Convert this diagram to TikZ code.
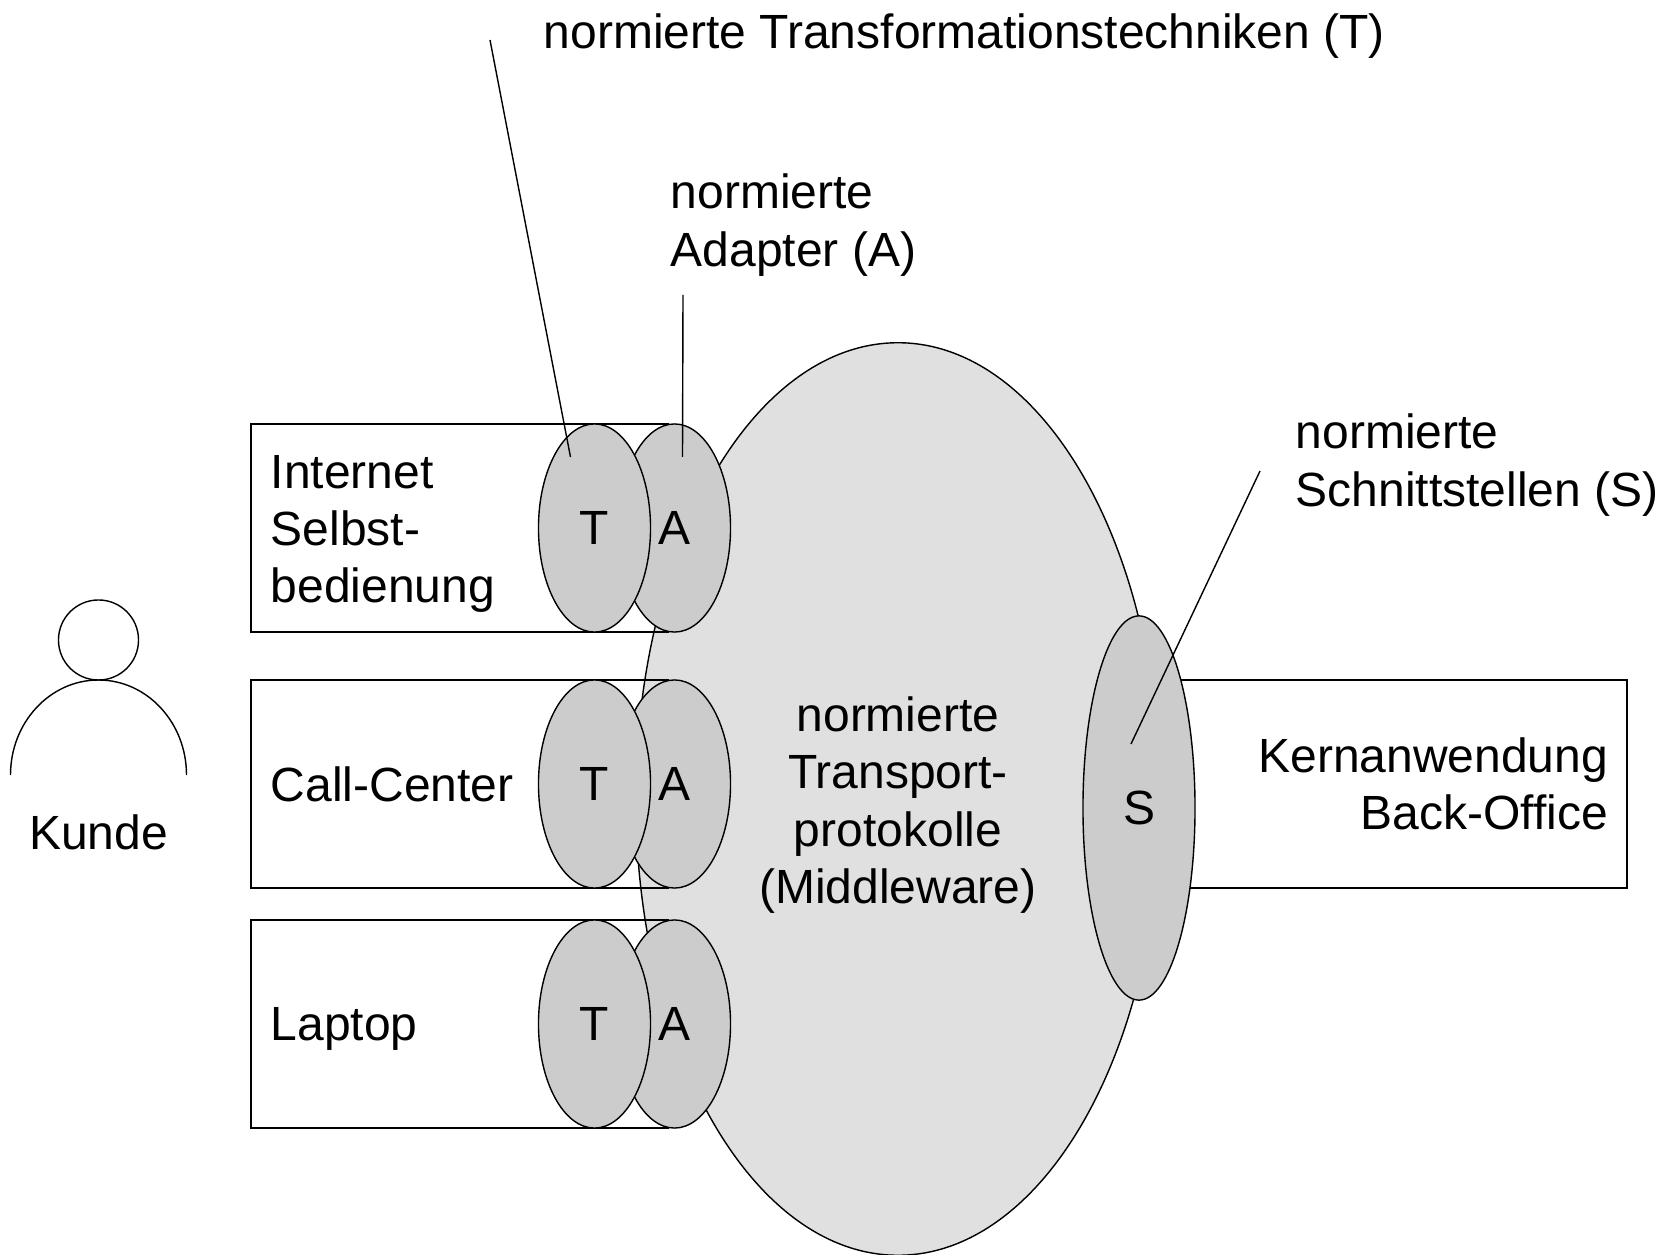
\documentclass[tikz,border=0pt]{standalone}
\usepackage{fontspec}
\setmainfont{Liberation Sans}
\usetikzlibrary{calc}
\usetikzlibrary{shapes.geometric}
\tikzstyle{blobnode} = [draw, ellipse, inner sep=0pt, minimum width=1.12cm, minimum height=2.08cm]
\tikzstyle{colorBlob} = [fill=black!20]
\tikzstyle{colorCore} = [fill=black!12]
\tikzstyle{appnode} = [draw, inner sep=0pt, minimum height=2.08cm]
\tikzstyle{leftapp} = [appnode, minimum width=4.17cm]
\tikzstyle{lbl} = [align=left, inner sep=0pt]

\begin{document}
\begin{tikzpicture}[x=0.01cm, y=-0.01cm, line width=0.4pt, font=\fontsize{13.65pt}{16.3pt}\selectfont]
    \useasboundingbox (0,0) rectangle (1660,1255);

    % middle
    \node[draw, ellipse, colorCore, inner sep=0pt, minimum width=5.24cm, minimum height=9.12cm] (core) at (898,799) {};
    \node[lbl, align=center] (core_txt) at ($(core)+(0,6)$)
{normierte\\Transport-\\protokolle\\(Middleware)};

    % left rows
    \node[leftapp] (app_net) at (459.5,528) {};
    \node[lbl, anchor=west] (net_txt) at ($(app_net.west)+(20,6)$) {Internet\\Selbst-\\bedienung};
    \node[blobnode, colorBlob] (a_net) at ($(app_net)+(215,0)$) {A};
    \node[blobnode, colorBlob] (t_net) at ($(a_net)+(-80,0)$) {T};

    \node[leftapp] (app_call) at ($(app_net)+(0,256)$) {};
    \node[lbl, anchor=west] (call_txt) at ($(app_call.west)+(20,0)$) {Call-Center};
    \node[blobnode, colorBlob] (a_call) at ($(app_call)+(215,0)$) {A};
    \node[blobnode, colorBlob] (t_call) at ($(a_call)+(-80,0)$) {T};

    \node[leftapp] (app_lap) at ($(app_call)+(0,240)$) {};
    \node[lbl, anchor=west] (lap_txt) at ($(app_lap.west)+(20,5)$) {Laptop};
    \node[blobnode, colorBlob] (a_lap) at ($(app_lap)+(215,0)$) {A};
    \node[blobnode, colorBlob] (t_lap) at ($(a_lap)+(-80,0)$) {T};

    % right side
    \node[appnode, minimum width=4.88cm, text width=4.5cm, align=right] (app_back) at (1383,784)
{Kernanwendung\\Back-Office};
    \node[blobnode, colorBlob, minimum height=3.84cm] (s_core) at (1139,808) {S};

    % customer
    \node[draw, circle, inner sep=0pt, minimum size=0.80cm] (head) at (98.5,640) {};
    \coordinate (arm_l) at (10.5,775);
    \coordinate (arm_r) at (186.5,775);
    \draw (arm_l) arc[start angle=180, end angle=0, x radius=88, y radius=-95];
    \node[lbl] (kunde) at (98.5,832) {Kunde};

    % labels
    \node[lbl, anchor=west] (lbl_t) at (543,36) {normierte Transformationstechniken (T)};
    \node[lbl, anchor=west] (lbl_a) at (670,225) {normierte\\Adapter (A)};
    \node[lbl, anchor=west] (lbl_s) at (1295,465) {normierte\\Schnittstellen (S)};

    % leader lines
    \coordinate (from_t) at (490,40);
    \coordinate (from_a) at (683,295);
    \coordinate (from_s) at (1260,471);
    \coordinate (to_t) at ($(t_net)+(-24,-71)$);
    \coordinate (to_a) at ($(a_net)+(8,-71)$);
    \coordinate (to_s) at ($(s_core)+(-8,-64)$);
    \draw (from_t) -- (to_t);
    \draw (from_a) -- (to_a);
    \draw (from_s) -- (to_s);
\end{tikzpicture}
\end{document}
